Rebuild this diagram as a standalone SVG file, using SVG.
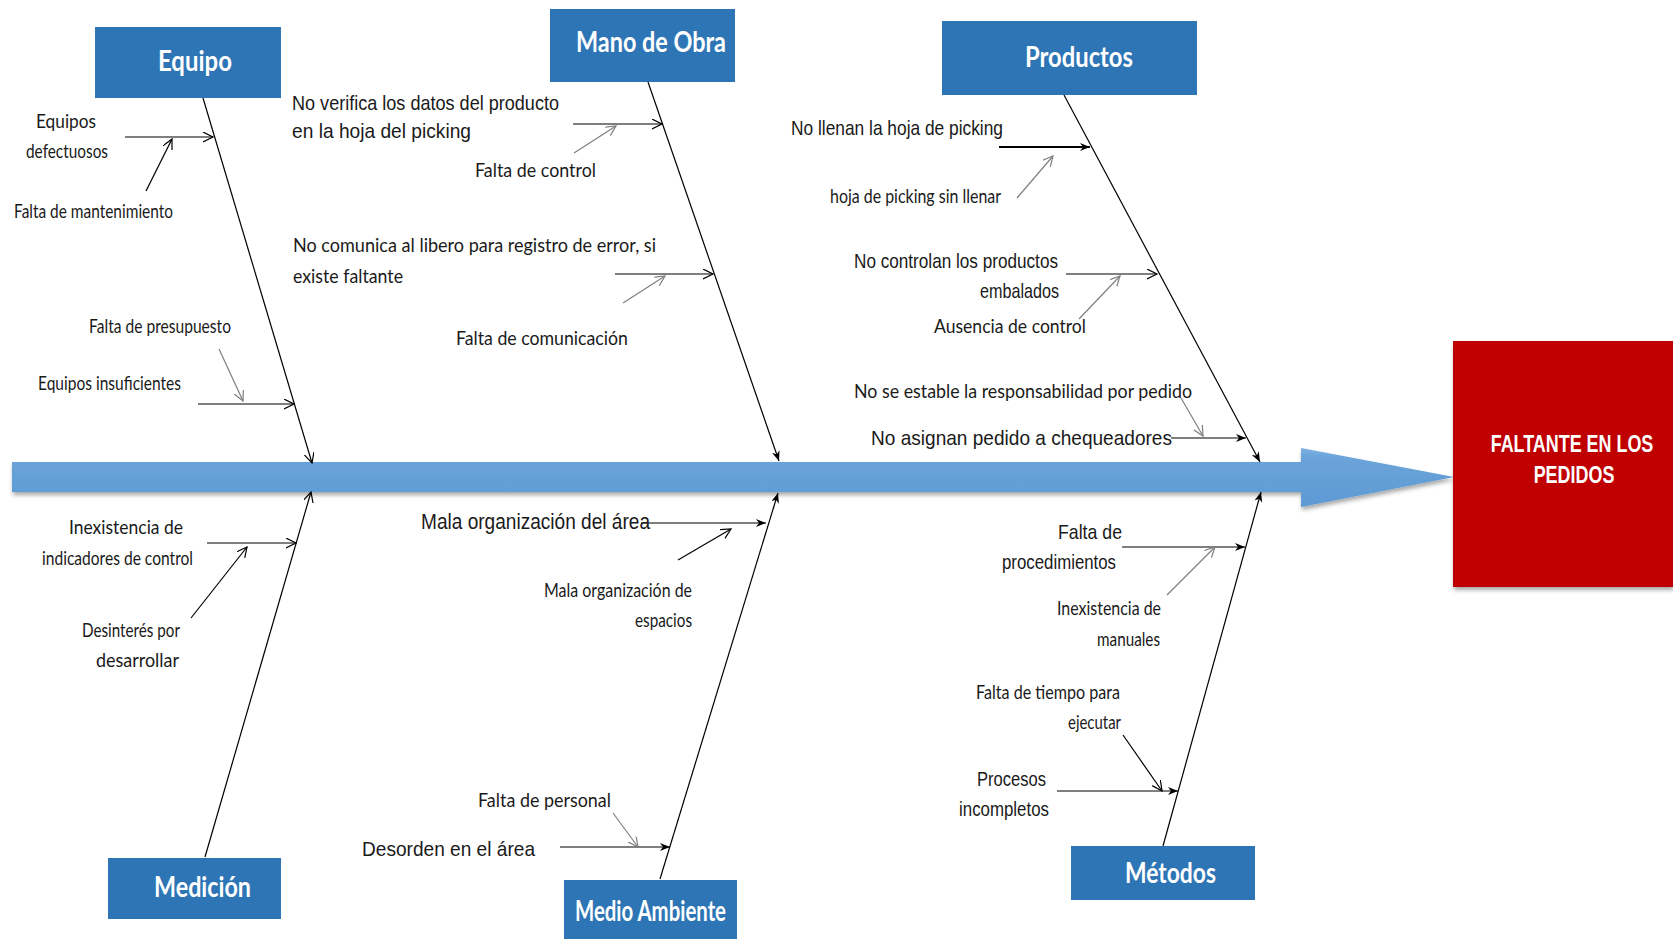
<svg xmlns="http://www.w3.org/2000/svg" width="1673" height="939" viewBox="0 0 1673 939">
<defs>
<style>
.box{fill:#2e75b6}
.ttl{font-family:Lato,"Open Sans",sans-serif;font-weight:bold;font-size:28px;fill:#ffffff}
.c{font-family:Lato,"Open Sans",sans-serif;font-size:20px;fill:#1a1a1a}
.n{font-family:"Liberation Sans Narrow","Liberation Sans",Arial,sans-serif;font-size:21px;fill:#1a1a1a}
.ln{stroke:#000;stroke-width:1.2;fill:none}
.lg{stroke:#7f7f7f;stroke-width:1.2;fill:none}
.lb{stroke:#000;stroke-width:1.8;fill:none}
.ef{font-family:"Liberation Sans",Arial,sans-serif;font-weight:bold;font-size:23px;fill:#ffffff;text-anchor:middle}
</style>
<marker id="op" markerUnits="userSpaceOnUse" markerWidth="12" markerHeight="12" refX="10" refY="5" orient="auto"><path d="M0,0 L10,5 L0,10" fill="none" stroke="#000" stroke-width="1.2"/></marker>
<marker id="og" markerUnits="userSpaceOnUse" markerWidth="12" markerHeight="12" refX="10" refY="5" orient="auto"><path d="M0,0 L10,5 L0,10" fill="none" stroke="#7f7f7f" stroke-width="1.2"/></marker>
<marker id="sf" markerUnits="userSpaceOnUse" markerWidth="12" markerHeight="10" refX="10" refY="4" orient="auto"><path d="M0,0 L10,4 L0,8 L3,4 z" fill="#000"/></marker>
<linearGradient id="blue" x1="0" y1="0" x2="0" y2="1">
<stop offset="0" stop-color="#7fb2e2"/>
<stop offset="0.15" stop-color="#6aa4da"/>
<stop offset="1" stop-color="#5d99d3"/>
</linearGradient>
<filter id="sh" x="-5%" y="-20%" width="110%" height="160%">
<feDropShadow dx="1" dy="3" stdDeviation="2" flood-color="#000" flood-opacity="0.35"/>
</filter>
</defs>
<rect width="1673" height="939" fill="#ffffff"/>

<g id="spine">
<path d="M12,462 L1301,462 L1301,448 L1454,477 L1301,507 L1301,492 L12,492 Z" fill="url(#blue)" filter="url(#sh)"/>
</g>

<g id="efecto">
<rect x="1453" y="341" width="220" height="246" fill="#c00000" filter="url(#sh)"/>
<text class="ef" transform="translate(1572,452) scale(0.78,1)" x="0" y="0">FALTANTE EN LOS</text>
<text class="ef" transform="translate(1574,483) scale(0.78,1)" x="0" y="0">PEDIDOS</text>
</g>

<g id="equipo">
<rect class="box" x="95" y="27" width="186" height="71"/>
<text class="ttl" x="158" y="71" textLength="74" lengthAdjust="spacingAndGlyphs">Equipo</text>
</g>
<g id="mano-de-obra">
<rect class="box" x="550" y="9" width="185" height="73"/>
<text class="ttl" x="576" y="52" textLength="150" lengthAdjust="spacingAndGlyphs">Mano de Obra</text>
</g>
<g id="productos">
<rect class="box" x="942" y="21" width="255" height="74"/>
<text class="ttl" x="1025" y="67" textLength="108" lengthAdjust="spacingAndGlyphs">Productos</text>
</g>
<g id="medicion">
<rect class="box" x="108" y="858" width="173" height="61"/>
<text class="ttl" x="154" y="897" textLength="97" lengthAdjust="spacingAndGlyphs">Medición</text>
</g>
<g id="medio-ambiente">
<rect class="box" x="564" y="880" width="173" height="60"/>
<text class="ttl" x="575" y="921" textLength="151" lengthAdjust="spacingAndGlyphs">Medio Ambiente</text>
</g>
<g id="metodos">
<rect class="box" x="1071" y="846" width="184" height="54"/>
<text class="ttl" x="1125" y="883" textLength="91" lengthAdjust="spacingAndGlyphs">Métodos</text>
</g>

<g id="connectors">
<line class="ln" x1="203" y1="98" x2="312" y2="463" marker-end="url(#op)"/>
<line class="ln" x1="648" y1="82" x2="779" y2="461" marker-end="url(#sf)"/>
<line class="ln" x1="1064" y1="95" x2="1260" y2="462" marker-end="url(#sf)"/>
<line class="ln" x1="205" y1="857" x2="311" y2="492" marker-end="url(#op)"/>
<line class="ln" x1="660" y1="879" x2="778" y2="493" marker-end="url(#sf)"/>
<line class="ln" x1="1163" y1="846" x2="1261" y2="492" marker-end="url(#sf)"/>

<line class="ln" x1="125" y1="137" x2="213" y2="137" marker-end="url(#op)"/>
<line class="ln" x1="146" y1="191" x2="172" y2="139" marker-end="url(#op)"/>
<line class="ln" x1="198" y1="404" x2="294" y2="404" marker-end="url(#op)"/>
<line class="lg" x1="219" y1="349" x2="243" y2="401" marker-end="url(#og)"/>

<line class="ln" x1="573" y1="124" x2="662" y2="124" marker-end="url(#op)"/>
<line class="lg" x1="574" y1="153" x2="616" y2="126" marker-end="url(#og)"/>
<line class="ln" x1="615" y1="274" x2="713" y2="274" marker-end="url(#op)"/>
<line class="lg" x1="623" y1="303" x2="665" y2="276" marker-end="url(#og)"/>

<line class="lb" x1="999" y1="147" x2="1090" y2="147" marker-end="url(#sf)"/>
<line class="lg" x1="1017" y1="198" x2="1053" y2="156" marker-end="url(#og)"/>
<line class="ln" x1="1066" y1="274" x2="1157" y2="274" marker-end="url(#op)"/>
<line class="lg" x1="1079" y1="319" x2="1120" y2="276" marker-end="url(#og)"/>
<line class="ln" x1="1171" y1="438" x2="1246" y2="438" marker-end="url(#sf)"/>
<line class="lg" x1="1181" y1="398" x2="1203" y2="436" marker-end="url(#og)"/>

<line class="ln" x1="207" y1="543" x2="296" y2="543" marker-end="url(#op)"/>
<line class="ln" x1="191" y1="618" x2="247" y2="547" marker-end="url(#op)"/>

<line class="ln" x1="641" y1="523" x2="766" y2="523" marker-end="url(#sf)"/>
<line class="ln" x1="678" y1="560" x2="731" y2="529" marker-end="url(#op)"/>
<line class="ln" x1="560" y1="847" x2="670" y2="847" marker-end="url(#sf)"/>
<line class="lg" x1="613" y1="813" x2="638" y2="847" marker-end="url(#og)"/>

<line class="ln" x1="1122" y1="547" x2="1245" y2="547" marker-end="url(#sf)"/>
<line class="lg" x1="1167" y1="595" x2="1215" y2="547" marker-end="url(#og)"/>
<line class="ln" x1="1057" y1="791" x2="1178" y2="791" marker-end="url(#sf)"/>
<line class="ln" x1="1123" y1="735" x2="1162" y2="791" marker-end="url(#op)"/>
</g>

<g id="labels">
<text class="c" x="36" y="128" textLength="60" lengthAdjust="spacingAndGlyphs">Equipos</text>
<text class="c" x="26" y="158" textLength="82" lengthAdjust="spacingAndGlyphs">defectuosos</text>
<text class="c" x="14" y="218" textLength="159" lengthAdjust="spacingAndGlyphs">Falta de mantenimiento</text>
<text class="c" x="89" y="333" textLength="142" lengthAdjust="spacingAndGlyphs">Falta de presupuesto</text>
<text class="c" x="38" y="390" textLength="143" lengthAdjust="spacingAndGlyphs">Equipos insuficientes</text>

<text class="n" x="292" y="110" textLength="267" lengthAdjust="spacingAndGlyphs">No verifica los datos del producto</text>
<text class="n" x="292" y="138" textLength="179" lengthAdjust="spacingAndGlyphs">en la hoja del picking</text>
<text class="c" x="475" y="177" textLength="121" lengthAdjust="spacingAndGlyphs">Falta de control</text>
<text class="c" x="293" y="252" textLength="363" lengthAdjust="spacingAndGlyphs">No comunica al libero para registro de error, si</text>
<text class="c" x="293" y="283" textLength="110" lengthAdjust="spacingAndGlyphs">existe faltante</text>
<text class="c" x="456" y="345" textLength="172" lengthAdjust="spacingAndGlyphs">Falta de comunicación</text>

<text class="n" x="791" y="135" textLength="212" lengthAdjust="spacingAndGlyphs">No llenan la hoja de picking</text>
<text class="c" x="830" y="203" textLength="171" lengthAdjust="spacingAndGlyphs">hoja de picking sin llenar</text>
<text class="n" x="854" y="268" textLength="204" lengthAdjust="spacingAndGlyphs">No controlan los productos</text>
<text class="n" x="980" y="298" textLength="79" lengthAdjust="spacingAndGlyphs">embalados</text>
<text class="c" x="934" y="333" textLength="152" lengthAdjust="spacingAndGlyphs">Ausencia de control</text>
<text class="c" x="854" y="398" textLength="338" lengthAdjust="spacingAndGlyphs">No se estable la responsabilidad por pedido</text>
<text class="n" x="871" y="445" textLength="301" lengthAdjust="spacingAndGlyphs">No asignan pedido a chequeadores</text>

<text class="c" x="69" y="534" textLength="114" lengthAdjust="spacingAndGlyphs">Inexistencia de</text>
<text class="c" x="42" y="565" textLength="151" lengthAdjust="spacingAndGlyphs">indicadores de control</text>
<text class="c" x="82" y="637" textLength="98" lengthAdjust="spacingAndGlyphs">Desinterés por</text>
<text class="c" x="96" y="667" textLength="83" lengthAdjust="spacingAndGlyphs">desarrollar</text>

<text class="n" x="421" y="529" textLength="229" lengthAdjust="spacingAndGlyphs" style="font-size:22px">Mala organización del área</text>
<text class="c" x="544" y="597" textLength="148" lengthAdjust="spacingAndGlyphs">Mala organización  de</text>
<text class="c" x="635" y="627" textLength="57" lengthAdjust="spacingAndGlyphs">espacios</text>
<text class="c" x="478" y="807" textLength="133" lengthAdjust="spacingAndGlyphs">Falta de personal</text>
<text class="n" x="362" y="856" textLength="173" lengthAdjust="spacingAndGlyphs">Desorden en el área</text>

<text class="n" x="1058" y="539" textLength="64" lengthAdjust="spacingAndGlyphs">Falta de</text>
<text class="n" x="1002" y="569" textLength="114" lengthAdjust="spacingAndGlyphs">procedimientos</text>
<text class="c" x="1057" y="615" textLength="104" lengthAdjust="spacingAndGlyphs">Inexistencia  de</text>
<text class="c" x="1097" y="646" textLength="63" lengthAdjust="spacingAndGlyphs">manuales</text>
<text class="c" x="976" y="699" textLength="144" lengthAdjust="spacingAndGlyphs">Falta de tiempo para</text>
<text class="c" x="1068" y="729" textLength="53" lengthAdjust="spacingAndGlyphs">ejecutar</text>
<text class="n" x="977" y="786" textLength="69" lengthAdjust="spacingAndGlyphs">Procesos</text>
<text class="n" x="959" y="816" textLength="90" lengthAdjust="spacingAndGlyphs">incompletos</text>
</g>
</svg>
